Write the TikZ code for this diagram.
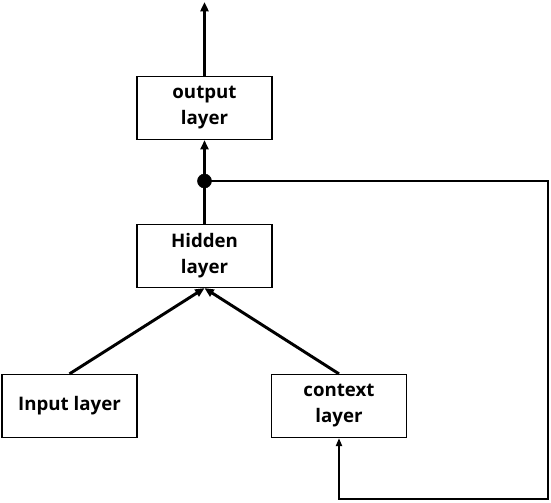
\documentclass[tikz,border=0pt]{standalone}
\usepackage{fontspec}
\setmainfont{Open Sans}
\usetikzlibrary{arrows.meta}

\tikzset{
	layerbox/.style={draw, line width=1.2pt, minimum width=101pt, minimum height=47pt, align=center, font=\bfseries\fontsize{14pt}{19.5pt}\selectfont, inner sep=0pt},
	flow/.style={line width=2.2pt, -{Triangle[length=7pt,width=6pt]}},
	feedback/.style={line width=1.5pt, -{Triangle[length=6pt,width=4.5pt]}}
}

\begin{document}
\begin{tikzpicture}[x=0.75pt, y=-0.75pt] % 1
		\useasboundingbox (0,0) rectangle (551,503);

		\node[layerbox] (output) at (204.5,108) {output\\layer};
		\node[layerbox] (hidden) at (204.5,256) {Hidden\\layer};
		\node[layerbox] (input) at (69.5,406) {Input layer};
		\node[layerbox] (context) at (339,406) {context\\layer};

		\coordinate (top) at (204.5,2);
		\coordinate (split) at (204.5,181);
		\coordinate (east) at (548,181);
		\coordinate (south) at (548,499);

		\draw[flow] (output.north) -- (top);
		\draw[flow] (split) -- (output.south);
		\draw[line width=2.2pt] (hidden.north) -- (split);
		\filldraw (split) circle (7);

		\draw[flow] (input.north) -- (hidden.south);
		\draw[flow] (context.north) -- (hidden.south);

		\draw[feedback] (split) -- (east) -- (south) -| (context.south);
\end{tikzpicture}
\end{document}
